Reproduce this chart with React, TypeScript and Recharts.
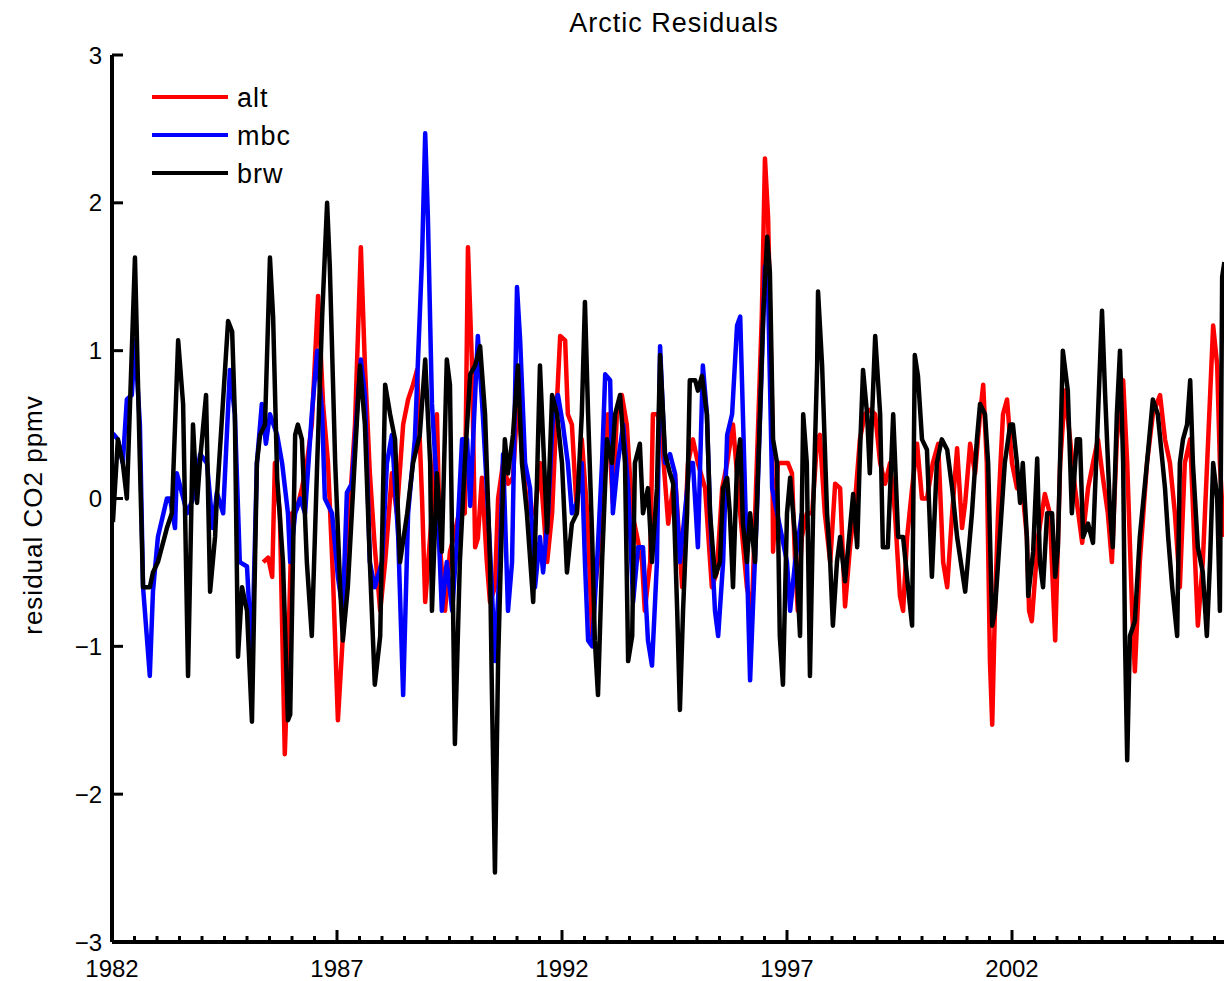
import { LineChart, Line, XAxis, YAxis } from "recharts";

// monthly residuals [decimal year, ppmv]
const altPoints: [number, number][] = [
  [1985.36, -0.43], [1985.47, -0.4], [1985.56, -0.53], [1985.62, 0.24], [1985.73, -0.1], [1985.84, -1.73],
  [1985.91, -1.1], [1986.0, -0.1], [1986.11, -0.07], [1986.22, 0.07], [1986.33, 0.24], [1986.44, 0.5],
  [1986.58, 1.37], [1986.69, 0.64], [1986.8, 0.24], [1986.91, -0.53], [1987.02, -1.5], [1987.13, -0.93],
  [1987.24, -0.26], [1987.4, 0.5], [1987.53, 1.7], [1987.62, 0.9], [1987.73, 0.17], [1987.84, -0.33],
  [1987.96, -0.76], [1988.07, -0.43], [1988.22, 0.17], [1988.33, -0.1], [1988.47, 0.5], [1988.58, 0.67],
  [1988.69, 0.77], [1988.78, 0.87], [1988.89, 0.0], [1988.96, -0.7], [1989.11, -0.1], [1989.22, 0.57],
  [1989.29, -0.33], [1989.4, -0.76], [1989.51, -0.36], [1989.62, -0.23], [1989.73, -0.07], [1989.84, -0.1],
  [1989.91, 1.7], [1990.0, 0.9], [1990.07, -0.33], [1990.13, -0.27], [1990.22, 0.14], [1990.33, -0.43],
  [1990.4, -0.7], [1990.51, -0.6], [1990.58, 0.0], [1990.69, 0.24], [1990.8, 0.1], [1990.91, 0.14],
  [1991.02, 0.7], [1991.13, 0.24], [1991.24, -0.1], [1991.4, -0.1], [1991.51, 0.24], [1991.67, -0.43],
  [1991.78, -0.1], [1991.89, 0.67], [1991.96, 1.1], [1992.07, 1.07], [1992.13, 0.57], [1992.22, 0.5],
  [1992.33, -0.1], [1992.44, 0.4], [1992.56, -0.1], [1992.67, -0.93], [1992.73, -0.6], [1992.8, -0.43],
  [1992.91, 0.24], [1993.02, 0.57], [1993.13, -0.03], [1993.22, 0.57], [1993.33, 0.7], [1993.44, 0.5],
  [1993.56, -0.1], [1993.67, -0.26], [1993.78, -0.43], [1993.84, -0.76], [1993.96, -0.43], [1994.02, 0.57],
  [1994.13, 0.57], [1994.22, 0.4], [1994.36, -0.17], [1994.51, 0.17], [1994.67, -0.6], [1994.8, 0.24],
  [1994.91, 0.4], [1995.02, 0.24], [1995.18, 0.07], [1995.33, -0.6], [1995.44, -0.5], [1995.56, 0.07],
  [1995.67, 0.24], [1995.8, 0.5], [1995.96, -0.1], [1996.11, -0.6], [1996.22, -0.76], [1996.33, 0.24],
  [1996.44, 1.23], [1996.51, 2.3], [1996.58, 1.9], [1996.67, 0.57], [1996.69, -0.36], [1996.8, 0.24],
  [1996.91, 0.24], [1997.02, 0.24], [1997.11, 0.17], [1997.18, -0.43], [1997.24, -0.76], [1997.33, -0.26],
  [1997.44, -0.1], [1997.56, -0.1], [1997.67, 0.4], [1997.73, 0.43], [1997.84, -0.1], [1997.96, -0.43],
  [1998.07, 0.1], [1998.18, 0.07], [1998.29, -0.73], [1998.4, -0.33], [1998.51, -0.03], [1998.62, 0.4],
  [1998.73, 0.57], [1998.84, 0.6], [1998.96, 0.57], [1999.07, 0.24], [1999.18, 0.1], [1999.29, 0.24],
  [1999.4, -0.1], [1999.51, -0.66], [1999.58, -0.76], [1999.67, -0.26], [1999.78, 0.07], [1999.89, 0.37],
  [2000.0, 0.0], [2000.11, 0.0], [2000.24, 0.24], [2000.36, 0.37], [2000.47, -0.43], [2000.56, -0.6],
  [2000.67, -0.1], [2000.78, 0.34], [2000.89, -0.2], [2000.96, -0.03], [2001.07, 0.37], [2001.18, 0.17],
  [2001.29, 0.57], [2001.36, 0.77], [2001.44, 0.24], [2001.51, -1.1], [2001.56, -1.53], [2001.62, -0.76],
  [2001.69, -0.1], [2001.8, 0.57], [2001.89, 0.67], [2002.0, 0.24], [2002.11, 0.07], [2002.22, 0.1],
  [2002.33, -0.26], [2002.38, -0.76], [2002.44, -0.83], [2002.58, -0.26], [2002.73, 0.03], [2002.84, -0.1],
  [2002.96, -0.96], [2003.07, 0.24], [2003.18, 0.73], [2003.29, 0.4], [2003.4, 0.07], [2003.56, -0.3],
  [2003.69, 0.07], [2003.8, 0.24], [2003.91, 0.4], [2004.02, 0.14], [2004.13, -0.1], [2004.22, -0.43],
  [2004.33, 0.4], [2004.47, 0.8], [2004.56, 0.24], [2004.67, -0.76], [2004.73, -1.17], [2004.84, -0.43],
  [2005.0, 0.24], [2005.13, 0.57], [2005.29, 0.7], [2005.4, 0.4], [2005.51, 0.24], [2005.62, -0.1],
  [2005.73, -0.6], [2005.84, 0.24], [2005.96, 0.4], [2006.07, -0.43], [2006.13, -0.86], [2006.24, -0.43],
  [2006.36, 0.4], [2006.47, 1.17], [2006.56, 0.9], [2006.62, 0.24], [2006.71, -0.26],
];

const mbcPoints: [number, number][] = [
  [1982.02, 0.44], [1982.13, 0.4], [1982.24, 0.24], [1982.33, 0.67], [1982.44, 0.7], [1982.51, 1.07],
  [1982.62, 0.5], [1982.69, -0.6], [1982.84, -1.2], [1982.91, -0.63], [1983.02, -0.26], [1983.22, 0.0],
  [1983.29, 0.0], [1983.4, -0.2], [1983.44, 0.17], [1983.56, 0.03], [1983.67, -0.1], [1983.8, 0.0],
  [1983.96, 0.3], [1984.11, 0.24], [1984.24, -0.2], [1984.33, 0.04], [1984.47, -0.1], [1984.62, 0.87],
  [1984.73, 0.57], [1984.84, -0.43], [1985.0, -0.46], [1985.11, -1.1], [1985.22, 0.24], [1985.33, 0.64],
  [1985.42, 0.37], [1985.51, 0.57], [1985.67, 0.43], [1985.78, 0.24], [1985.91, -0.1], [1985.96, -0.43],
  [1986.07, -0.1], [1986.18, 0.0], [1986.29, -0.1], [1986.44, 0.57], [1986.56, 1.0], [1986.67, 0.57],
  [1986.73, 0.0], [1986.89, -0.1], [1987.02, -0.53], [1987.13, -0.76], [1987.22, 0.04], [1987.33, 0.1],
  [1987.44, 0.57], [1987.53, 0.94], [1987.62, 0.7], [1987.73, -0.43], [1987.84, -0.6], [1988.0, -0.43],
  [1988.11, 0.24], [1988.22, 0.43], [1988.36, -0.26], [1988.47, -1.33], [1988.58, -0.1], [1988.73, 0.4],
  [1988.89, 1.63], [1988.96, 2.47], [1989.02, 1.9], [1989.11, 0.64], [1989.22, 0.07], [1989.33, -0.76],
  [1989.44, -0.43], [1989.56, -0.76], [1989.67, -0.26], [1989.78, 0.4], [1989.89, 0.4], [1989.96, -0.05],
  [1990.04, 0.5], [1990.13, 1.1], [1990.24, 0.57], [1990.36, -0.1], [1990.44, -0.6], [1990.51, -1.1],
  [1990.62, -0.43], [1990.69, 0.3], [1990.8, -0.76], [1990.89, -0.43], [1991.0, 1.43], [1991.07, 1.07],
  [1991.18, 0.24], [1991.29, 0.07], [1991.4, -0.6], [1991.51, -0.26], [1991.58, -0.5], [1991.69, -0.1],
  [1991.8, 0.57], [1991.91, 0.7], [1992.02, 0.5], [1992.13, 0.24], [1992.22, -0.1], [1992.33, -0.03],
  [1992.44, 0.24], [1992.51, -0.43], [1992.58, -0.96], [1992.67, -1.0], [1992.78, -0.43], [1992.89, 0.24],
  [1992.96, 0.84], [1993.07, 0.8], [1993.13, -0.1], [1993.24, 0.24], [1993.36, 0.5], [1993.47, 0.07],
  [1993.58, -0.7], [1993.69, -0.33], [1993.8, -0.33], [1993.91, -0.96], [1994.0, -1.13], [1994.11, -0.43],
  [1994.18, 1.03], [1994.29, 0.24], [1994.4, 0.3], [1994.51, 0.17], [1994.62, -0.43], [1994.73, -0.1],
  [1994.84, 0.24], [1994.91, 0.24], [1995.02, -0.33], [1995.13, 0.9], [1995.22, 0.57], [1995.29, -0.1],
  [1995.4, -0.76], [1995.47, -0.93], [1995.58, -0.43], [1995.67, 0.43], [1995.78, 0.57], [1995.89, 1.17],
  [1995.96, 1.23], [1996.02, 0.57], [1996.11, -0.43], [1996.18, -1.23], [1996.24, -0.76], [1996.33, -0.1],
  [1996.44, 0.9], [1996.51, 1.57], [1996.58, 1.4], [1996.67, 0.07], [1996.78, -0.1], [1996.89, -0.26],
  [1997.0, -0.43], [1997.07, -0.76], [1997.18, -0.43], [1997.33, -0.1],
];

const brwPoints: [number, number][] = [
  [1982.02, -0.16], [1982.13, 0.4], [1982.24, 0.24], [1982.33, 0.0], [1982.51, 1.63], [1982.62, 0.24],
  [1982.69, -0.6], [1982.84, -0.6], [1982.91, -0.5], [1983.02, -0.43], [1983.22, -0.2], [1983.33, -0.1],
  [1983.47, 1.07], [1983.58, 0.64], [1983.69, -1.2], [1983.8, 0.5], [1983.89, -0.03], [1983.96, 0.27],
  [1984.09, 0.7], [1984.18, -0.63], [1984.29, -0.26], [1984.33, 0.0], [1984.58, 1.2], [1984.67, 1.13],
  [1984.73, 0.57], [1984.8, -1.07], [1984.89, -0.6], [1985.0, -0.76], [1985.11, -1.51], [1985.22, 0.24],
  [1985.29, 0.43], [1985.4, 0.5], [1985.51, 1.63], [1985.58, 1.23], [1985.67, 0.14], [1985.8, -0.43],
  [1985.91, -1.5], [1985.96, -1.46], [1986.07, 0.43], [1986.13, 0.5], [1986.22, 0.4], [1986.33, -0.43],
  [1986.44, -0.93], [1986.56, 0.24], [1986.67, 1.23], [1986.78, 2.0], [1986.84, 1.57], [1986.96, 0.24],
  [1987.07, -0.6], [1987.13, -0.96], [1987.24, -0.6], [1987.36, 0.07], [1987.51, 0.9], [1987.62, 0.5],
  [1987.73, -0.43], [1987.84, -1.26], [1987.96, -0.93], [1988.07, 0.77], [1988.18, 0.57], [1988.29, 0.4],
  [1988.4, -0.43], [1988.56, -0.1], [1988.69, 0.24], [1988.84, 0.43], [1988.96, 0.94], [1989.07, 0.24],
  [1989.11, -0.76], [1989.22, 0.17], [1989.33, -0.36], [1989.44, 0.94], [1989.51, 0.77], [1989.58, -0.76],
  [1989.62, -1.66], [1989.73, -0.43], [1989.84, 0.24], [1989.96, 0.84], [1990.07, 0.9], [1990.18, 1.03],
  [1990.29, 0.57], [1990.4, -0.43], [1990.44, -1.26], [1990.51, -2.53], [1990.58, -1.1], [1990.67, -0.1],
  [1990.73, 0.4], [1990.8, 0.17], [1990.91, 0.43], [1991.02, 0.9], [1991.11, 0.24], [1991.22, -0.1],
  [1991.36, -0.7], [1991.44, 0.07], [1991.51, 0.9], [1991.58, 0.4], [1991.67, -0.23], [1991.78, 0.7],
  [1991.89, 0.57], [1992.0, 0.24], [1992.11, -0.5], [1992.22, -0.17], [1992.33, -0.1], [1992.44, 0.57],
  [1992.51, 1.33], [1992.58, 0.57], [1992.67, -0.26], [1992.73, -0.96], [1992.8, -1.33], [1992.89, -0.43],
  [1993.0, 0.4], [1993.11, 0.24], [1993.18, 0.57], [1993.29, 0.7], [1993.4, 0.24], [1993.47, -1.1],
  [1993.56, -0.93], [1993.62, 0.24], [1993.73, 0.37], [1993.8, -0.1], [1993.91, 0.07], [1994.0, -0.43],
  [1994.11, 0.07], [1994.18, 0.97], [1994.29, 0.3], [1994.4, 0.17], [1994.47, 0.1], [1994.56, -0.76],
  [1994.62, -1.43], [1994.69, -0.76], [1994.78, -0.1], [1994.84, 0.8], [1994.96, 0.8], [1995.02, 0.73],
  [1995.11, 0.83], [1995.22, 0.57], [1995.29, -0.1], [1995.4, -0.53], [1995.51, -0.43], [1995.58, 0.07],
  [1995.67, 0.14], [1995.73, -0.1], [1995.8, -0.6], [1995.89, 0.24], [1995.96, 0.4], [1996.02, -0.17],
  [1996.11, -0.43], [1996.18, -0.1], [1996.29, -0.43], [1996.4, 0.57], [1996.47, 1.23], [1996.56, 1.77],
  [1996.62, 1.53], [1996.69, 0.4], [1996.78, 0.24], [1996.84, -0.93], [1996.91, -1.26], [1997.0, -0.1],
  [1997.07, 0.14], [1997.18, -0.26], [1997.29, -0.93], [1997.36, 0.57], [1997.44, 0.24], [1997.51, -1.2],
  [1997.58, -0.1], [1997.67, 0.9], [1997.69, 1.4], [1997.78, 0.9], [1997.89, -0.1], [1997.96, -0.43],
  [1998.02, -0.86], [1998.11, -0.43], [1998.18, -0.26], [1998.24, -0.43], [1998.29, -0.56], [1998.36, -0.33],
  [1998.47, 0.03], [1998.56, -0.33], [1998.62, 0.3], [1998.69, 0.87], [1998.78, 0.57], [1998.84, 0.17],
  [1998.96, 1.1], [1999.07, 0.57], [1999.13, -0.33], [1999.24, -0.33], [1999.36, 0.57], [1999.47, -0.26],
  [1999.58, -0.26], [1999.69, -0.6], [1999.78, -0.86], [1999.84, 0.97], [1999.91, 0.83], [2000.0, 0.4],
  [2000.11, 0.33], [2000.22, -0.53], [2000.33, 0.24], [2000.44, 0.4], [2000.56, 0.33], [2000.67, 0.07],
  [2000.78, -0.26], [2000.96, -0.63], [2001.11, -0.1], [2001.22, 0.4], [2001.29, 0.64], [2001.4, 0.57],
  [2001.47, 0.24], [2001.56, -0.86], [2001.62, -0.76], [2001.73, -0.26], [2001.84, 0.24], [2001.96, 0.5],
  [2002.02, 0.5], [2002.11, 0.24], [2002.18, -0.03], [2002.24, 0.24], [2002.33, -0.26], [2002.36, -0.66],
  [2002.47, -0.36], [2002.56, 0.27], [2002.62, -0.43], [2002.69, -0.6], [2002.78, -0.1], [2002.89, -0.1],
  [2002.96, -0.53], [2003.02, -0.33], [2003.13, 1.0], [2003.24, 0.73], [2003.33, -0.1], [2003.44, 0.4],
  [2003.51, 0.4], [2003.58, -0.26], [2003.69, -0.17], [2003.8, -0.3], [2003.89, 0.4], [2004.0, 1.27],
  [2004.07, 0.7], [2004.18, -0.1], [2004.24, -0.33], [2004.33, 0.57], [2004.4, 1.0], [2004.47, 0.24],
  [2004.51, -0.93], [2004.56, -1.77], [2004.62, -0.93], [2004.73, -0.83], [2004.84, -0.26], [2005.0, 0.24],
  [2005.13, 0.67], [2005.24, 0.57], [2005.4, 0.07], [2005.47, -0.26], [2005.56, -0.6], [2005.67, -0.93],
  [2005.73, 0.24], [2005.8, 0.4], [2005.89, 0.5], [2005.96, 0.8], [2006.02, 0.24], [2006.13, -0.33],
  [2006.24, -0.5], [2006.33, -0.93], [2006.4, -0.43], [2006.47, 0.24], [2006.56, 0.0], [2006.62, -0.76],
  [2006.67, 1.5], [2006.72, 1.6],
];

const seriesNames = ["alt", "mbc", "brw"];
const seriesColors = ["#ff0000", "#0000ff", "#000000"];
const seriesPoints = [altPoints, mbcPoints, brwPoints];

// long ticks every five years, labels only where they fit on the page
const majorYears = [1982, 1987, 1992, 1997, 2002, 2007];
const labelledYears = [1982, 1987, 1992, 1997, 2002];
const halfYearTicks = Array.from({ length: 53 }, (_, i) => 1982 + i / 2);
const yTicks = [-3, -2, -1, 0, 1, 2, 3];

const FONT = "'Liberation Sans', Arial, Helvetica, sans-serif";

function BottomTick(props: any) {
  const { x, y, payload } = props;
  const major = majorYears.includes(payload.value);
  return (
    <g>
      <line x1={x} x2={x} y1={y} y2={y - (major ? 12 : 6)} stroke="#000" strokeWidth={3} />
      {labelledYears.includes(payload.value) && (
        <text x={x} y={y + 35} textAnchor="middle" fontSize={24} fontFamily={FONT} fill="#000">
          {payload.value}
        </text>
      )}
    </g>
  );
}

function TopTick(props: any) {
  const { x, y, payload } = props;
  const major = majorYears.includes(payload.value);
  return <line x1={x} x2={x} y1={y} y2={y + (major ? 12 : 6)} stroke="#000" strokeWidth={3} />;
}

function LeftTick(props: any) {
  const { x, y, payload } = props;
  const v = payload.value as number;
  return (
    <g>
      <line x1={x} x2={x + 11} y1={y} y2={y} stroke="#000" strokeWidth={3} />
      <text x={x - 10} y={y} textAnchor="end" dominantBaseline="central" fontSize={24} fontFamily={FONT} fill="#000">
        {v < 0 ? `\u2212${Math.abs(v)}` : v}
      </text>
    </g>
  );
}

export default function App() {
  const axisLine = { stroke: "#000", strokeWidth: 4 };
  return (
    <div
      style={{
        position: "fixed",
        left: 0,
        top: 0,
        width: 1224,
        height: 981,
        overflow: "hidden",
        background: "#fff",
      }}
    >
      <LineChart width={1305} height={981} margin={{ top: 55, right: 23, bottom: 0, left: 0 }}>
        <XAxis
          xAxisId="bottom"
          dataKey="year"
          type="number"
          domain={[1982, 2008]}
          allowDataOverflow
          ticks={halfYearTicks}
          interval={0}
          height={39}
          tickSize={0}
          tickMargin={0}
          tick={BottomTick}
          axisLine={axisLine}
        />
        <XAxis
          xAxisId="top"
          orientation="top"
          dataKey="year"
          type="number"
          domain={[1982, 2008]}
          allowDataOverflow
          ticks={halfYearTicks}
          interval={0}
          height={0}
          tickSize={0}
          tickMargin={0}
          tick={TopTick}
          axisLine={axisLine}
        />
        <YAxis
          type="number"
          domain={[-3, 3]}
          allowDataOverflow
          ticks={yTicks}
          interval={0}
          width={112}
          tickSize={0}
          tickMargin={0}
          tick={LeftTick}
          axisLine={axisLine}
        />
        {seriesNames.map((name, i) => (
          <Line
            key={name}
            xAxisId="bottom"
            name={name}
            data={seriesPoints[i].map(([year, value]) => ({ year, value }))}
            dataKey="value"
            type="linear"
            stroke={seriesColors[i]}
            strokeWidth={4.5}
            strokeLinejoin="round"
            dot={false}
            activeDot={false}
            isAnimationActive={false}
          />
        ))}
      </LineChart>

      <svg
        width={1224}
        height={981}
        style={{ position: "absolute", left: 0, top: 0, pointerEvents: "none" }}
        fontFamily={FONT}
      >
        <text x={674} y={32} textAnchor="middle" fontSize={27} letterSpacing={1} fill="#000">
          Arctic Residuals
        </text>
        <text
          transform="translate(42, 515) rotate(-90)"
          textAnchor="middle"
          fontSize={26}
          letterSpacing={1}
          fill="#000"
        >
          residual CO2 ppmv
        </text>
        {seriesNames.map((name, i) => (
          <g key={name}>
            <line x1={152} x2={228} y1={97 + 38 * i} y2={97 + 38 * i} stroke={seriesColors[i]} strokeWidth={4} />
            <text x={237} y={98 + 38 * i} dominantBaseline="central" fontSize={27} letterSpacing={1} fill="#000">
              {name}
            </text>
          </g>
        ))}
      </svg>
    </div>
  );
}
